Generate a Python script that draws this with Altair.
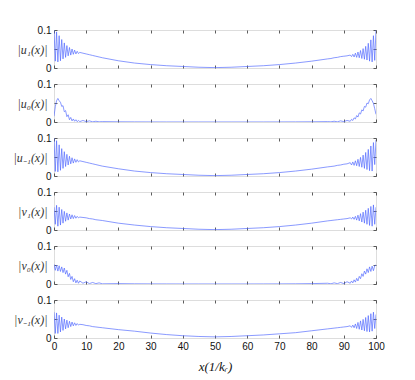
import altair as alt
import pandas as pd

# shared x positions
OSC_LEFT_X = [0.0, 0.4, 0.8, 1.2, 1.6, 2.0, 2.4, 2.8, 3.2, 3.6, 4.0, 4.4, 4.8, 5.2, 5.6,
              6.0, 6.4, 6.8, 7.2, 7.6, 8.0]
SMOOTH_X = [9, 10, 11, 12, 13, 14, 15, 20, 25, 30, 35, 40, 45, 50, 55, 60, 65, 70, 75,
            80, 85, 86, 87, 88, 89, 90, 91]
OSC_RIGHT_X = [92.0, 92.4, 92.8, 93.2, 93.6, 94.0, 94.4, 94.8, 95.2, 95.6, 96.0, 96.4,
               96.8, 97.2, 97.6, 98.0, 98.4, 98.8, 99.2, 99.6, 100.0]

X_TICKS = [0, 10, 20, 30, 40, 50, 60, 70, 80, 90, 100]
Y_TICKS = [0, 0.05, 0.1]

TITLES = ["|u₁(x)|", "|u₀(x)|", "|u₋₁(x)|", "|v₁(x)|", "|v₀(x)|", "|v₋₁(x)|"]
X_TITLE = "x(1/kᵣ)"

# |u1|
U1_L = [0.100, 0.018, 0.095, 0.016, 0.085, 0.019, 0.075, 0.024, 0.066, 0.028, 0.059, 0.032,
        0.054, 0.034, 0.050, 0.036, 0.047, 0.037, 0.044, 0.038, 0.041]
U1_S = [0.039, 0.037, 0.035, 0.033, 0.031, 0.029, 0.027, 0.019, 0.013, 0.009, 0.006, 0.004,
        0.002, 0.001, 0.002, 0.004, 0.006, 0.009, 0.013, 0.018, 0.024, 0.025, 0.027, 0.028,
        0.030, 0.031, 0.032]
U1_R = [0.034, 0.030, 0.036, 0.029, 0.039, 0.028, 0.042, 0.027, 0.046, 0.025, 0.051, 0.023,
        0.057, 0.021, 0.065, 0.018, 0.074, 0.016, 0.085, 0.020, 0.100]

# |u0|
U0_L = [0.015, 0.040, 0.056, 0.062, 0.056, 0.052, 0.041, 0.043, 0.027, 0.030, 0.014, 0.019,
        0.006, 0.012, 0.003, 0.008, 0.002, 0.006, 0.001, 0.004, 0.001]
U0_S = [0.004, 0.001, 0.003, 0.0005, 0.002, 0.0005, 0.001, 0.0005, 0.0003, 0.0002, 0.0001,
        0.0001, 0.0001, 0.0001, 0.0001, 0.0001, 0.0001, 0.0002, 0.0003, 0.0005, 0.001,
        0.0005, 0.002, 0.0005, 0.003, 0.001, 0.004]
U0_R = [0.002, 0.007, 0.004, 0.011, 0.008, 0.017, 0.013, 0.024, 0.021, 0.032, 0.029, 0.041,
        0.039, 0.050, 0.048, 0.058, 0.062, 0.056, 0.049, 0.035, 0.020]

# |u-1|
UM1_L = [0.100, 0.012, 0.093, 0.011, 0.082, 0.015, 0.072, 0.020, 0.064, 0.025, 0.057, 0.029,
         0.052, 0.032, 0.048, 0.034, 0.045, 0.036, 0.043, 0.037, 0.040]
UM1_S = [0.038, 0.036, 0.034, 0.032, 0.030, 0.028, 0.026, 0.019, 0.013, 0.009, 0.006, 0.004,
         0.002, 0.001, 0.002, 0.004, 0.006, 0.009, 0.013, 0.018, 0.024, 0.025, 0.026, 0.028,
         0.029, 0.031, 0.032]
UM1_R = [0.035, 0.029, 0.037, 0.028, 0.040, 0.027, 0.044, 0.025, 0.049, 0.023, 0.055, 0.020,
         0.062, 0.017, 0.070, 0.014, 0.079, 0.013, 0.088, 0.030, 0.095]

# |v1|
V1_L = [0.060, 0.015, 0.065, 0.010, 0.060, 0.013, 0.054, 0.018, 0.049, 0.023, 0.045, 0.026,
        0.042, 0.029, 0.040, 0.030, 0.038, 0.031, 0.036, 0.032, 0.034]
V1_S = [0.033, 0.032, 0.030, 0.029, 0.027, 0.026, 0.025, 0.018, 0.013, 0.009, 0.006, 0.004,
        0.002, 0.001, 0.002, 0.004, 0.006, 0.009, 0.013, 0.018, 0.024, 0.025, 0.026, 0.027,
        0.028, 0.029, 0.030]
V1_R = [0.032, 0.029, 0.034, 0.028, 0.036, 0.026, 0.039, 0.024, 0.043, 0.021, 0.047, 0.018,
        0.052, 0.015, 0.057, 0.012, 0.062, 0.010, 0.066, 0.015, 0.060]

# |v0|
V0_L = [0.052, 0.036, 0.050, 0.034, 0.048, 0.033, 0.045, 0.030, 0.042, 0.026, 0.036, 0.019,
        0.028, 0.012, 0.020, 0.006, 0.014, 0.003, 0.010, 0.002, 0.008]
V0_S = [0.002, 0.006, 0.001, 0.004, 0.001, 0.003, 0.0005, 0.001, 0.0005, 0.0003, 0.0002,
        0.0001, 0.0001, 0.0001, 0.0001, 0.0001, 0.0002, 0.0003, 0.0005, 0.001, 0.002,
        0.0005, 0.003, 0.001, 0.004, 0.001, 0.006]
V0_R = [0.002, 0.008, 0.003, 0.011, 0.005, 0.015, 0.008, 0.020, 0.014, 0.027, 0.020, 0.034,
        0.026, 0.040, 0.030, 0.045, 0.033, 0.047, 0.035, 0.048, 0.050]

# |v-1|
VM1_L = [0.068, 0.012, 0.066, 0.012, 0.060, 0.016, 0.055, 0.020, 0.050, 0.024, 0.047, 0.027,
         0.044, 0.030, 0.042, 0.032, 0.040, 0.033, 0.038, 0.034, 0.036]
VM1_S = [0.035, 0.033, 0.032, 0.030, 0.029, 0.028, 0.027, 0.022, 0.018, 0.013, 0.009, 0.006,
         0.004, 0.003, 0.004, 0.006, 0.008, 0.011, 0.014, 0.019, 0.024, 0.025, 0.026, 0.027,
         0.028, 0.029, 0.030]
VM1_R = [0.032, 0.028, 0.034, 0.027, 0.037, 0.025, 0.041, 0.023, 0.045, 0.021, 0.049, 0.019,
         0.054, 0.017, 0.059, 0.016, 0.064, 0.018, 0.068, 0.025, 0.062]

SERIES = [(U1_L, U1_S, U1_R), (U0_L, U0_S, U0_R), (UM1_L, UM1_S, UM1_R),
          (V1_L, V1_S, V1_R), (V0_L, V0_S, V0_R), (VM1_L, VM1_S, VM1_R)]

LINE_COLOR = "#4a63ff"
FRAME = "#333333"
W, H = 322, 38

xscale = alt.Scale(domain=[0, 100], nice=False, zero=False)
yscale = alt.Scale(domain=[0, 0.1], nice=False, zero=False)
label_expr = "datum.value == 0 ? '0' : (datum.value > 0.09 ? '0.1' : '')"


def panel(i, show_x):
    L, S, R = SERIES[i]
    df = pd.DataFrame({"x": OSC_LEFT_X + SMOOTH_X + OSC_RIGHT_X, "y": L + S + R})
    base = alt.Chart(df)
    xaxis_kw = dict(orient="bottom", values=X_TICKS, offset=-3, tickSize=3, domain=False,
                    grid=False, labelFlush=False, tickColor=FRAME, tickWidth=0.8,
                    labelFont="Liberation Sans", labelFontSize=10, labelColor="#111",
                    labelPadding=3)
    if show_x:
        xaxis = alt.Axis(labels=True, title=X_TITLE, titleFont="Liberation Serif",
                         titleFontSize=13, titleFontStyle="italic", titleFontWeight="normal",
                         titlePadding=9, titleColor="#111", **xaxis_kw)
    else:
        xaxis = alt.Axis(labels=False, title=None, **xaxis_kw)
    main = base.mark_line(color=LINE_COLOR, strokeWidth=0.65, clip=True).encode(
        x=alt.X("x:Q", scale=xscale, axis=xaxis),
        y=alt.Y("y:Q", scale=yscale,
                axis=alt.Axis(orient="left", values=Y_TICKS, offset=-3, tickSize=3,
                              domain=False, grid=False, tickColor=FRAME, tickWidth=0.8,
                              labelExpr=label_expr, labelFont="Liberation Sans",
                              labelFontSize=10, labelColor="#111", labelPadding=3,
                              title=TITLES[i], titleAngle=0, titleAlign="right",
                              titleBaseline="middle", titleX=-10, titleY=H / 2,
                              titleFont="Liberation Serif", titleFontSize=12,
                              titleFontStyle="italic", titleFontWeight="normal",
                              titleColor="#333")),
    )
    ticks = base.mark_line(opacity=0).encode(
        x=alt.X("x:Q", scale=xscale,
                axis=alt.Axis(orient="top", values=X_TICKS, offset=-3, tickSize=3,
                              domain=False, grid=False, labels=False, title=None,
                              tickColor=FRAME, tickWidth=0.8)),
        y=alt.Y("y:Q", scale=yscale,
                axis=alt.Axis(orient="right", values=Y_TICKS, offset=-3, tickSize=3,
                              domain=False, grid=False, labels=False, title=None,
                              tickColor=FRAME, tickWidth=0.8)),
    )
    return (alt.layer(main, ticks)
            .resolve_axis(x="independent", y="independent")
            .properties(width=W, height=H))


panels = [panel(i, i == 5) for i in range(6)]
chart = (alt.vconcat(*panels, spacing=4)
         .properties(padding={"left": 4, "top": 16, "right": 5, "bottom": 5})
         .configure_view(stroke=FRAME, strokeWidth=0.9)
         .configure(background="white"))

chart.save("out.html", embed_options={"renderer": "svg", "actions": False})
